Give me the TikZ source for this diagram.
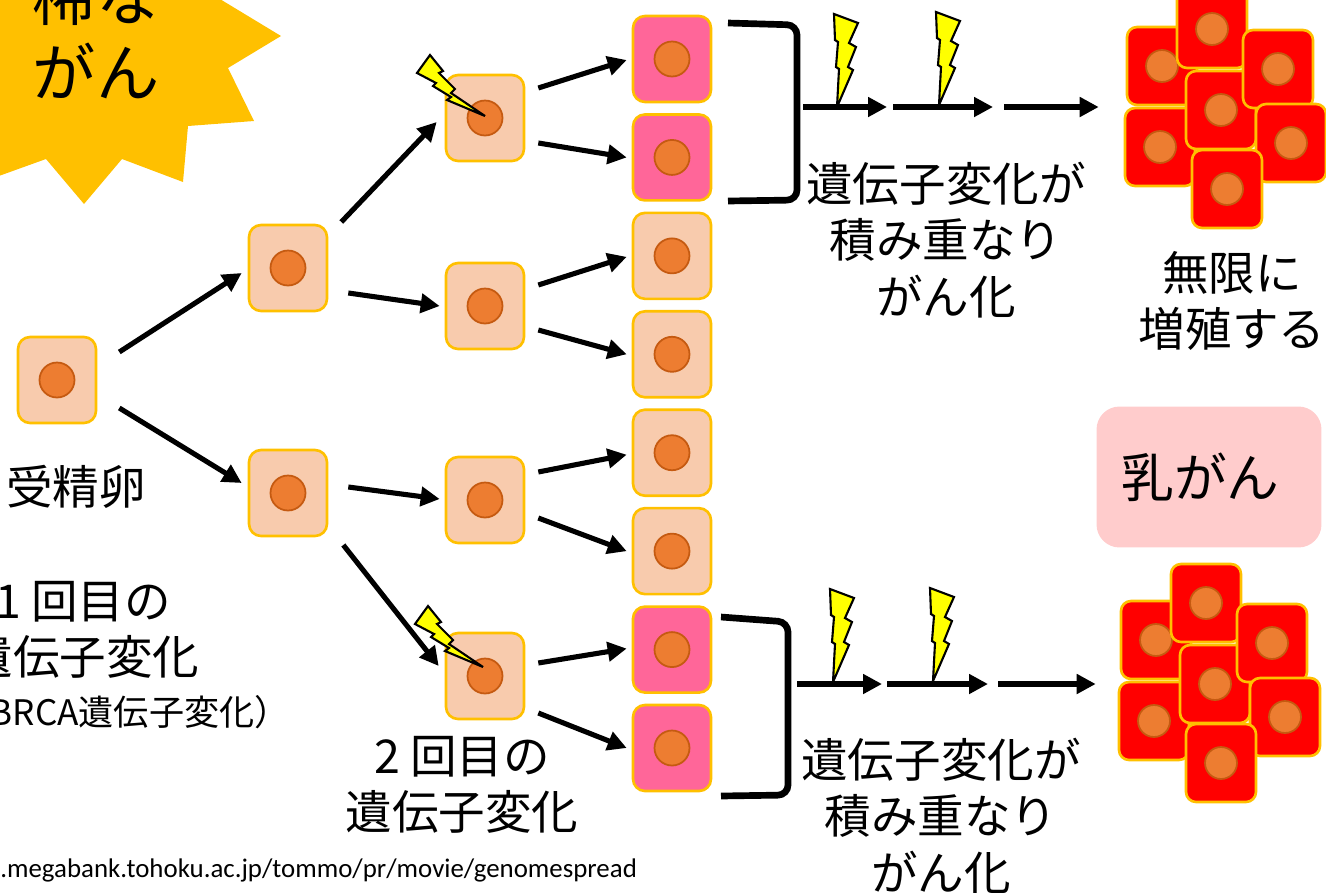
\documentclass[tikz,border=0pt]{standalone}
\usepackage{fontspec}
\setmainfont{Noto Sans CJK JP}
\newfontfamily\urlfont{Carlito}
\usetikzlibrary{arrows.meta,calc,positioning}

\definecolor{peach}{HTML}{F8CBAD}
\definecolor{cellrim}{HTML}{FFC000}
\definecolor{nucfill}{HTML}{ED7D31}
\definecolor{nucrim}{HTML}{C55A11}
\definecolor{mutpink}{HTML}{FF6699}
\definecolor{tumorred}{HTML}{FF0000}
\definecolor{burst}{HTML}{FFC000}
\definecolor{boxpink}{HTML}{FFCCCC}
\definecolor{zapfill}{HTML}{FFFF00}

\tikzset{
  pics/zap/.style={code={
    \draw[bolt] (0,0) -- (-34,-23) -- (-30,-27) -- (-46,-43) -- (-42,-45) -- (-55,-61)
      -- (-68,-43) -- (-49,-33) -- (-52,-30) -- (-34,-19) -- (-38,-16) -- cycle;}},
  pics/zapv/.style={code={
    \draw[bolt] (0,0) -- (16,-37) -- (11,-40) -- (19,-60) -- (12,-64) -- (21,-84)
      -- (-3,-93) -- (-2,-67) -- (1,-65) -- (-1,-40) -- (2,-38) -- cycle;}},
  pics/tumour/.style={code={
    \node[tumor] (-ul) at (-59,-44) {};
    \node[tumor] (-ll) at (-61,37) {};
    \node[tumor] (-tp) at (-9,-81) {};
    \node[tumor] (-md) at (0,0) {};
    \node[tumor] (-ur) at (57,-41) {};
    \node[tumor] (-lr) at (70,33) {};
    \node[tumor] (-bt) at (6,79) {};}}
}

\begin{document}
\begin{tikzpicture}[x=0.02cm, y=-0.02cm, node distance=1.969cm]
  \tikzstyle{nuc}=[fill=nucfill, draw=nucrim, line width=1pt]
  \tikzstyle{cell}=[rectangle, draw=cellrim, fill=peach, line width=1.5pt, rounded corners=0.24cm,
    minimum width=1.56cm, minimum height=1.72cm, inner sep=0pt,
    path picture={\draw[nuc] (path picture bounding box.center) circle[radius=0.35cm];}]
  \tikzstyle{mut}=[cell, fill=mutpink]
  \tikzstyle{tumor}=[cell, fill=tumorred, rounded corners=0.2cm, minimum width=1.4cm, minimum height=1.56cm,
    path picture={\draw[nuc] (path picture bounding box.center) circle[radius=0.32cm];}]
  \tikzstyle{arr}=[-{Triangle[length=0.38cm, width=0.38cm]}, line width=2.9pt]
  \tikzstyle{brk}=[line width=3.8pt, rounded corners=0.2cm]
  \tikzstyle{bolt}=[fill=zapfill, draw=black, line width=1.2pt, miter limit=4]
  \tikzstyle{lbl}=[font=\fontsize{26.5}{32}\selectfont, align=center, inner sep=0pt]

  \useasboundingbox (0,0) rectangle (1326,893);
  \clip (0,0) rectangle (1326,893);

  % burst with the title
  \fill[burst] (-60,-80) -- (200,-80) -- (205,-10) -- (281,36) -- (228,68) -- (254,121)
    -- (188,126) -- (183,182) -- (122,159) -- (84,204) -- (46,159) -- (-40,190) -- cycle;
  \node[lbl, font=\fontsize{36}{43}\selectfont] (rare) at (96,33) {稀な\\がん};

  % cell lineage
  \node[cell] (egg) at (57,380) {};
  \node[cell] (s1) at (288,268) {};
  \node[cell] (s2) at (288,493) {};
  \node[cell] (t1) at (485,118) {};
  \node[cell] (t2) at (485,306) {};
  \node[cell] (t3) at (485,500) {};
  \node[cell] (t4) at (485,676) {};
  \node[mut] (q1) at (672,59) {};
  \node[mut, below of=q1] (q2) {};
  \node[cell, below of=q2] (q3) {};
  \node[cell, below of=q3] (q4) {};
  \node[cell, below of=q4] (q5) {};
  \node[cell, below of=q5] (q6) {};
  \node[mut, below of=q6] (q7) {};
  \node[mut, below of=q7] (q8) {};

  \draw[arr] ($(egg.east)+(22,-28)$) -- ($(s1.west)+(-6,5)$);
  \draw[arr] ($(egg.east)+(22,28)$) -- ($(s2.west)+(-6,-10)$);
  \draw[arr] ($(s1.east)+(13,-46)$) -- ($(t1.west)+(-8,4)$);
  \draw[arr] ($(s1.east)+(20,25)$) -- ($(t2.west)+(-5,0)$);
  \draw[arr] ($(s2.east)+(20,-6)$) -- ($(t3.west)+(-5,-1)$);
  \draw[arr] ($(s2.east)+(15,52)$) -- ($(t4.west)+(-6,-10)$);
  \draw[arr] ($(t1.east)+(13,-30)$) -- ($(q1.west)+(-5,1)$);
  \draw[arr] ($(t1.east)+(13,25)$) -- ($(q2.west)+(-5,0)$);
  \draw[arr] ($(t2.east)+(13,-21)$) -- ($(q3.west)+(-5,1)$);
  \draw[arr] ($(t2.east)+(13,24)$) -- ($(q4.west)+(-5,0)$);
  \draw[arr] ($(t3.east)+(13,-28)$) -- ($(q5.west)+(-5,2)$);
  \draw[arr] ($(t3.east)+(13,18)$) -- ($(q6.west)+(-5,0)$);
  \draw[arr] ($(t4.east)+(13,-13)$) -- ($(q7.west)+(-5,-1)$);
  \draw[arr] ($(t4.east)+(13,37)$) -- ($(q8.west)+(-5,0)$);

  \pic at ($(t1)+(0,-2)$) {zap};
  \pic at ($(t4)+(-2,-9)$) {zap};

  % upper route to the tumour
  \draw[brk] (728,23) -- (797,25) -- (797,200) -- (728,201);
  \pic (hi) at (1221,110) {tumour};
  \coordinate (u0) at (803,107);
  \coordinate (u1) at (887,107);
  \coordinate (u2) at (893,107);
  \coordinate (u3) at (993,107);
  \coordinate (u4) at (1004,107);
  \draw[arr] (u0) -- (u1);
  \draw[arr] (u2) -- (u3);
  \draw[arr, shorten >=0.54cm] (u4) -- (u4 -| hi-ul.west);
  \pic at (837,107) {zapv};
  \pic at (939,105) {zapv};

  % lower route to the tumour
  \draw[brk] (721,617) -- (788,622) -- (788,795) -- (721,796);
  \pic (lo) at (1215,684) {tumour};
  \coordinate (v0) at (797,684);
  \coordinate (v1) at (882,684);
  \coordinate (v2) at (887,684);
  \coordinate (v3) at (988,684);
  \coordinate (v4) at (998,684);
  \draw[arr] (v0) -- (v1);
  \draw[arr] (v2) -- (v3);
  \draw[arr, shorten >=0.48cm] (v4) -- (v4 -| lo-ul.west);
  \pic at (833,682) {zapv};
  \pic at (933,681) {zapv};

  % labels
  \node[lbl] (fert) at (76,487) {受精卵};
  \node[lbl] (hit1) at (83,630) {1 回目の\\遺伝子変化};
  \node[lbl, font=\fontsize{20}{24}\selectfont, anchor=east] (brca1) at (290,712) {（BRCA遺伝子変化）};
  \node[lbl] (hit2) at (462,785) {2 回目の\\遺伝子変化};
  \node[lbl] (acc1) at (946,240) {遺伝子変化が\\積み重なり\\がん化};
  \node[lbl] (acc2) at (941,816) {遺伝子変化が\\積み重なり\\がん化};
  \node[lbl] (grow) at (1232,301) {無限に\\増殖する};
  \node[fill=boxpink, rounded corners=0.46cm, text width=3.5cm, inner xsep=0.5cm, minimum height=2.82cm,
    align=left, font=\fontsize{30}{36}\selectfont] (brca) at (1209,477) {乳がん};
  \node[anchor=base west, inner sep=0pt, font=\urlfont\fontsize{15.3}{18}\selectfont] (src) at (0,877)
    {.megabank.tohoku.ac.jp/tommo/pr/movie/genomespread};
\end{tikzpicture}
\end{document}
